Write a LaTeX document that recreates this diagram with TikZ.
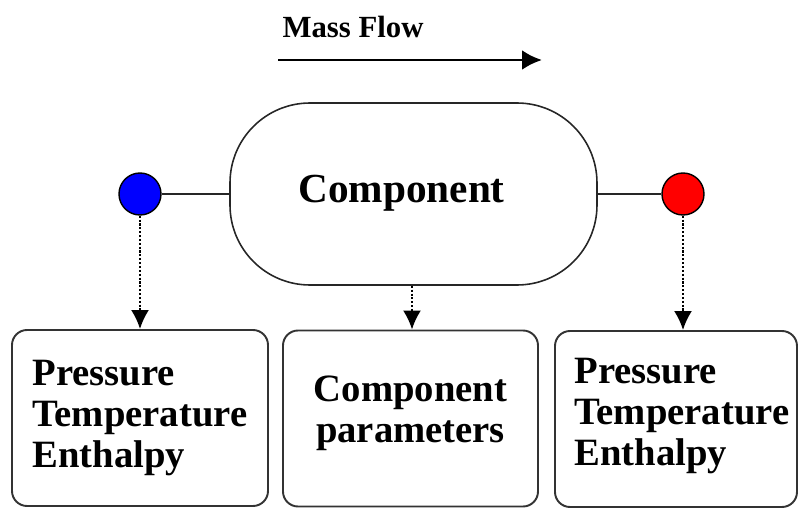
\documentclass[tikz,border=0pt]{standalone}
\usepackage{fontspec}
\setmainfont{Liberation Serif}
\usetikzlibrary{arrows.meta}
\usetikzlibrary{positioning}

\tikzset{
  infobox/.style={draw=black!80, line width=1.1pt, rounded corners=0.3cm, fill=white,
    minimum height=3.52cm, inner sep=0pt},
  boxtext/.style={inner sep=0pt, align=left, anchor=west,
    font=\fontsize{22}{23.5}\selectfont\bfseries},
  port/.style={circle, draw=black, line width=0.8pt, minimum size=0.84cm, inner sep=0pt},
  probe/.style={densely dotted, line width=1.2pt, -{Latex[length=0.38cm, width=0.36cm]}}
}

\begin{document}
\begin{tikzpicture}
\useasboundingbox (0,0) rectangle (15.98,10.18);
% Mass flow
\node (mflow) at (7.06,9.64) {\fontsize{17.5}{20}\selectfont\bfseries Mass Flow};
\coordinate (fstart) at (5.56,8.98);
\coordinate (fend) at (10.84,8.98);
\draw[line width=1.7pt, -{Latex[length=0.4cm, width=0.4cm]}] (fstart) -- (fend);
% Component
\node[draw=black!85, line width=0.9pt, rounded corners=1.6cm, minimum width=7.34cm,
  minimum height=3.64cm] (comp) at (8.27,6.30) {};
\node[font=\fontsize{23.5}{28}\selectfont\bfseries] (complabel) at ([xshift=-0.24cm, yshift=0.02cm]comp.center) {Component};
% Inlet and outlet
\node[port, fill=blue] (inlet) at (2.8,6.30) {};
\node[port, fill=red] (outlet) at (13.66,6.30) {};
\draw[line width=0.9pt, black!85] (inlet) -- (comp);
\draw[line width=0.9pt, black!85] (comp) -- (outlet);
% Boxes
\node[infobox, minimum width=5.12cm] (instate) at (2.8,1.82) {};
\node[boxtext] (intext) at ([xshift=0.42cm]instate.west) {Pressure\\Temperature\\Enthalpy};
\node[infobox, minimum width=5.1cm] (params) at (8.21,1.81) {};
\node[boxtext, anchor=center, align=center] (paramtext) at ([yshift=0.1cm]params.center) {Component\\parameters};
\node[infobox, minimum width=4.84cm] (outstate) at (13.52,1.80) {};
\node[boxtext] (outtext) at ([xshift=0.4cm, yshift=0.06cm]outstate.west) {Pressure\\Temperature\\Enthalpy};
% Dotted arrows
\draw[probe] (inlet) -- (inlet |- instate.north);
\draw[probe] (comp.south -| 8.24,0) -- (params.north -| 8.24,0);
\draw[probe] (outlet) -- (outlet |- outstate.north);
\end{tikzpicture}
\end{document}
